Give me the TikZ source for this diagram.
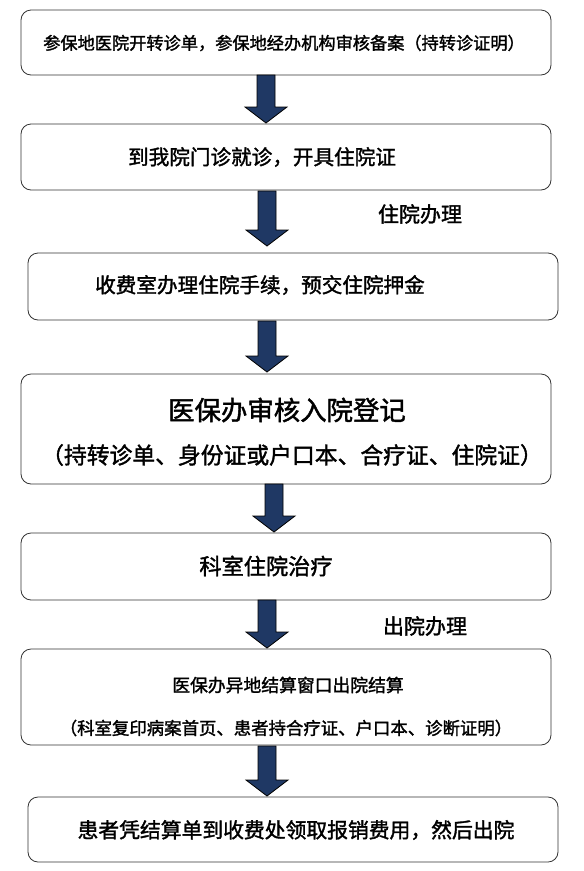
\documentclass[tikz,border=0pt]{standalone}
\usepackage{fontspec}
\usepackage{tikz}
\usetikzlibrary{calc}
\newfontfamily\cjk[FakeBold=1.6]{Noto Sans CJK SC}
\newcommand{\setfs}[1]{\fontsize{#1}{#1}\selectfont}
\definecolor{navy}{RGB}{31,56,100}
\newcommand{\bigarrow}[2]{%
  \draw[arr] let \p1=(#1), \p2=(#2) in
    (\x1-9pt,\y1) -- (\x1-9pt,\y2+16pt) -- (\x1-21pt,\y2+16pt) -- (\x2,\y2)
    -- (\x1+21pt,\y2+16pt) -- (\x1+9pt,\y2+16pt) -- (\x1+9pt,\y1) -- cycle;}

\begin{document}
\begin{tikzpicture}[x=1pt, y=-1pt,
  box/.style={draw=black!80, line width=0.8pt, rounded corners=10pt, minimum width=530pt, inner sep=0pt},
  txt/.style={inner sep=0pt, font=\cjk},
  arr/.style={draw=black, line width=0.8pt, fill=navy, line join=miter}]
  \useasboundingbox (0,0) rectangle (584,871);
  \node [box, minimum height=65pt] (b1) at (286,42.5) {};
  \node [box, minimum height=66pt] (b2) at (286,157) {};
  \node [box, minimum height=67pt] (b3) at (293,286.5) {};
  \node [box, minimum height=110pt] (b4) at (286,429) {};
  \node [box, minimum height=67pt] (b5) at (286,566.5) {};
  \node [box, minimum height=96pt] (b6) at (286,697) {};
  \node [box, minimum height=65pt] (b7) at (293,829.5) {};
  % texts
  \node [txt] (t1) at (284,43) {\setfs{17.2}参保地医院开转诊单，参保地经办机构审核备案（持转诊证明）};
  \node [txt] (t2) at (262,157) {\setfs{20.6}到我院门诊就诊，开具住院证};
  \node [txt] (t3) at (260,285) {\setfs{20.6}收费室办理住院手续，预交住院押金};
  \node [txt] (t4a) at (287,410) {\setfs{26.4}医保办审核入院登记};
  \node [txt] (t4b) at (292,455) {\setfs{22.8}（持转诊单、身份证或户口本、合疗证、住院证）};
  \node [txt] (t5) at (266,566) {\setfs{22.2}科室住院治疗};
  \node [txt] (t6a) at (288,685) {\setfs{17.8}医保办异地结算窗口出院结算};
  \node [txt] (t6b) at (286,728) {\setfs{17.4}（科室复印病案首页、患者持合疗证、户口本、诊断证明）};
  \node [txt] (t7) at (296,830) {\setfs{20.8}患者凭结算单到收费处领取报销费用，然后出院};
  \node [txt] (l1) at (420,214) {\setfs{21}住院办理};
  \node [txt] (l2) at (425,626) {\setfs{21}出院办理};
  % arrows
  \coordinate (a1) at (266,75);  \coordinate (a1t) at (266,123);
  \coordinate (a2) at (267,191); \coordinate (a2t) at (267,246);
  \coordinate (a3) at (267,321); \coordinate (a3t) at (267,372);
  \coordinate (a4) at (274,484); \coordinate (a4t) at (274,532);
  \coordinate (a5) at (267,600); \coordinate (a5t) at (267,648);
  \coordinate (a6) at (267,746); \coordinate (a6t) at (267,796);
  \bigarrow{a1}{a1t}
  \bigarrow{a2}{a2t}
  \bigarrow{a3}{a3t}
  \bigarrow{a4}{a4t}
  \bigarrow{a5}{a5t}
  \bigarrow{a6}{a6t}
\end{tikzpicture}
\end{document}
